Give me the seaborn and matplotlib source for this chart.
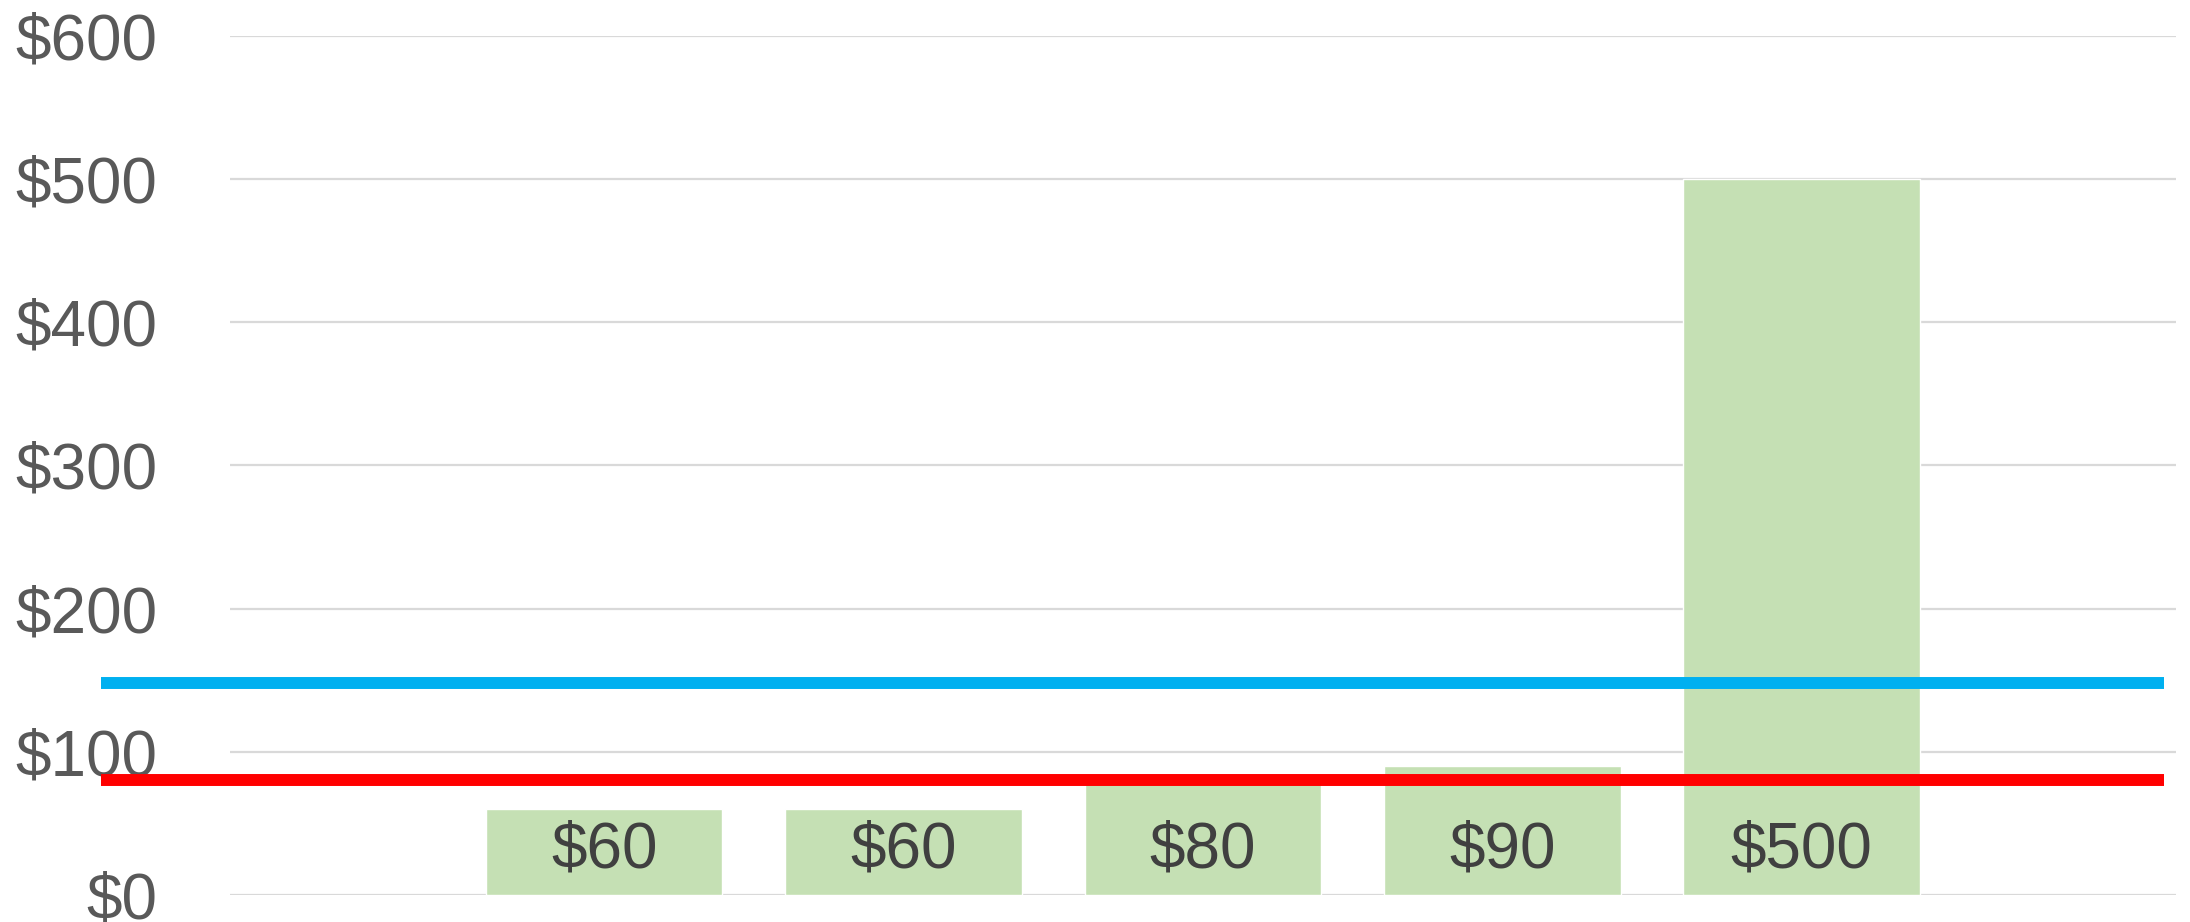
import matplotlib
matplotlib.use("Agg")
import matplotlib.pyplot as plt
import seaborn as sns
import pandas as pd

# data
items = ["Item 1", "Item 2", "Item 3", "Item 4", "Item 5"]
prices = [60, 60, 80, 90, 500]
blue_level = 148
red_level = 80
yticks = [0, 100, 200, 300, 400, 500, 600]

df = pd.DataFrame({"item": items, "price": prices})

sns.set_style("white")
plt.rcParams["font.family"] = ["Liberation Sans", "DejaVu Sans"]

fig = plt.figure(figsize=(21.9, 9.22), dpi=100)
ax = fig.add_axes([0.105, 0.0293, 0.8886, 0.9317])

sns.barplot(data=df, x="item", y="price", color="#c5e0b4", saturation=1,
            width=0.79, ax=ax, zorder=2)

ax.set_xlim(-1.25, len(items) + 0.25)
ax.set_ylim(0, 600)
ax.set_yticks(yticks)
ax.set_yticklabels(["$" + str(v) for v in yticks], fontsize=46, color="#595959")
ax.tick_params(axis="y", length=0, pad=52)
ax.set_xticks([])
ax.set_xlabel("")
ax.set_ylabel("")
for v in yticks:
    ax.axhline(v, color="#d9d9d9", lw=1.6, zorder=1)
for s in ax.spines.values():
    s.set_visible(False)

# value labels near the base of each bar
for i, v in enumerate(prices):
    ax.annotate("$" + str(v), xy=(i, 0), xytext=(0, 32), textcoords="offset points",
                ha="center", va="center", fontsize=46, color="#404040", zorder=4)

# horizontal reference lines, drawn past the plot area
x0, x1 = -1.68, 5.21
ax.plot([x0, x1], [blue_level, blue_level], color="#00b0f0", lw=8.6,
        solid_capstyle="butt", clip_on=False, zorder=3)
ax.plot([x0, x1], [red_level, red_level], color="#ff0000", lw=8.6,
        solid_capstyle="butt", clip_on=False, zorder=3)

fig.savefig("out.png", dpi=100)
